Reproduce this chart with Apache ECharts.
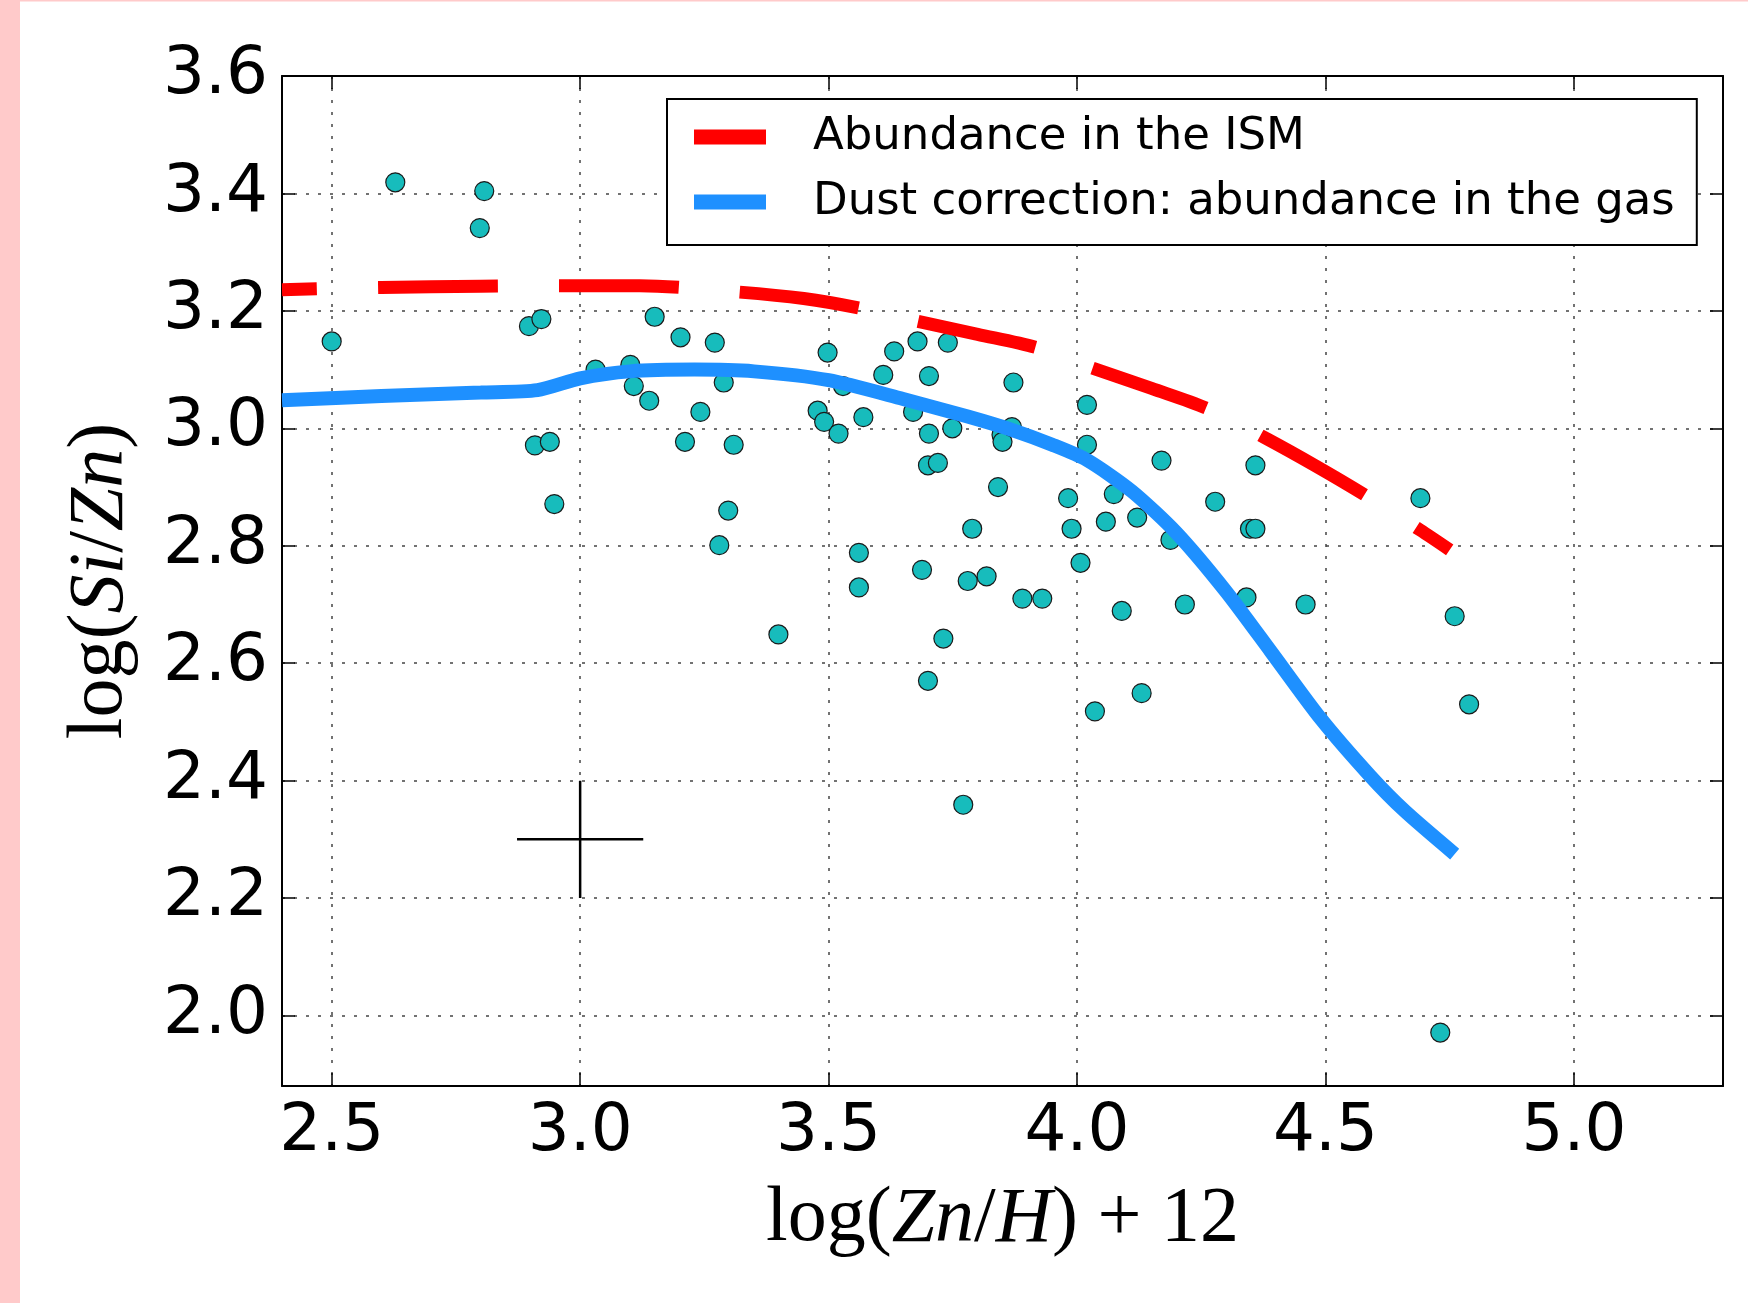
<!DOCTYPE html>
<html>
<head>
<meta charset="utf-8">
<script src="https://cdn.jsdelivr.net/npm/echarts@6/dist/echarts.min.js"></script>
<style>
html, body { margin: 0; padding: 0; background: #fff; }
#chart { width: 1748px; height: 1303px; }
</style>
</head>
<body>
<div id="chart"></div>
<script>
// tick positions
var xTicks = [2.5, 3.0, 3.5, 4.0, 4.5, 5.0];
var yTicks = [2.0, 2.2, 2.4, 2.6, 2.8, 3.0, 3.2, 3.4, 3.6];

// observed systems: log(Zn/H)+12 vs log(Si/Zn)
var obsZn = [2.500, 2.628, 2.807, 2.798, 2.897, 2.922, 2.909, 2.939, 2.948, 3.031,
             3.101, 3.108, 3.139, 3.150, 3.202, 3.211, 3.242, 3.271, 3.289, 3.280,
             3.298, 3.309, 3.399, 3.478, 3.491, 3.498, 3.520, 3.529, 3.570, 3.561,
             3.561, 3.610, 3.632, 3.670, 3.679, 3.688, 3.702, 3.702, 3.700, 3.720,
             3.700, 3.731, 3.740, 3.749, 3.771, 3.780, 3.789, 3.818, 3.841, 3.848,
             3.850, 3.872, 3.890, 3.930, 3.982, 3.989, 4.007, 4.020, 4.020, 4.036,
             4.058, 4.074, 4.090, 4.121, 4.130, 4.170, 4.188, 4.217, 4.278, 4.341,
             4.348, 4.359, 4.359, 4.460, 4.691, 4.760, 4.789, 4.731, 3.869];
var obsSiZn = [3.148, 3.419, 3.404, 3.341, 3.174, 3.186, 2.971, 2.977, 2.871, 3.100,
               3.108, 3.072, 3.047, 3.190, 3.155, 2.977, 3.028, 3.146, 3.078, 2.801,
               2.860, 2.972, 2.649, 3.030, 3.011, 3.129, 2.991, 3.072, 3.019, 2.788,
               2.729, 3.091, 3.131, 3.028, 3.148, 2.759, 2.991, 3.089, 2.937, 2.941,
               2.570, 2.642, 3.146, 3.000, 2.359, 2.740, 2.829, 2.748, 2.900, 2.989,
               2.977, 3.078, 2.710, 2.710, 2.881, 2.829, 2.771, 3.040, 2.972, 2.518,
               2.841, 2.888, 2.689, 2.848, 2.549, 2.945, 2.810, 2.700, 2.875, 2.712,
               2.829, 2.829, 2.937, 2.700, 2.881, 2.680, 2.530, 1.971, 3.002];

// model curve: abundance in the ISM
var ismZn   = [2.40, 2.60, 2.80, 3.00, 3.12, 3.32, 3.45, 3.56, 3.68, 3.80,
               3.92, 4.03, 4.15, 4.27, 4.38, 4.48, 4.58, 4.69, 4.75];
var ismSiZn = [3.236, 3.240, 3.242, 3.243, 3.243, 3.232, 3.221, 3.205, 3.182, 3.160,
               3.137, 3.103, 3.068, 3.031, 2.983, 2.936, 2.886, 2.827, 2.793];

// model curve: dust corrected abundance in the gas
var gasZn   = [2.40, 2.60, 2.80, 2.914, 3.00, 3.10, 3.23, 3.35, 3.50, 3.65,
               3.78, 3.87, 3.95, 4.02, 4.11, 4.20, 4.30, 4.39, 4.49, 4.59,
               4.66, 4.76];
var gasSiZn = [3.048, 3.055, 3.061, 3.065, 3.085, 3.097, 3.100, 3.097, 3.082, 3.050,
               3.020, 2.997, 2.972, 2.946, 2.893, 2.822, 2.722, 2.620, 2.506, 2.408,
               2.348, 2.275];

// typical error bar
var errCenter = [3.0, 2.3];
var errHalf = [0.127, 0.1];

var ismName = 'Abundance in the ISM';
var gasName = 'Dust correction: abundance in the gas';

function pairs(xs, ys) {
    return xs.map(function (x, i) { return [x, ys[i]]; });
}

var errData = [
    [errCenter[0] - errHalf[0], errCenter[1]],
    [errCenter[0] + errHalf[0], errCenter[1]],
    '-',
    [errCenter[0], errCenter[1] - errHalf[1]],
    [errCenter[0], errCenter[1] + errHalf[1]]
];

var dom = document.getElementById('chart');
var myChart = echarts.init(dom);

var tickFont = 'DejaVu Sans';
var mathFont = 'Liberation Serif';
var frame = { show: true, onZero: false, lineStyle: { color: '#000', width: 2 } };
var gridLine = { show: true, lineStyle: { color: '#444', width: 1.5, type: [3, 9] } };
var mathRich = {
    n: { fontFamily: mathFont, fontSize: 78, color: '#000' },
    i: { fontFamily: mathFont, fontSize: 78, fontStyle: 'italic', color: '#000' }
};

function tick(values) {
    return { show: true, inside: true, length: 13, customValues: values,
             lineStyle: { color: '#000', width: 1.5 } };
}

var option = {
    animation: false,
    backgroundColor: '#fff',
    graphic: [
        { type: 'rect', left: 0, top: 0, shape: { width: 20, height: 1303 },
          style: { fill: '#ffcaca' }, silent: true },
        { type: 'rect', left: 0, top: 0, shape: { width: 1748, height: 1.5 },
          style: { fill: '#ffcaca' }, silent: true }
    ],
    grid: { left: 282, right: 25, top: 76, bottom: 217 },
    legend: {
        orient: 'vertical',
        left: 667,
        top: 99,
        backgroundColor: '#fff',
        borderColor: '#000',
        borderWidth: 2,
        padding: [13, 22, 18, 27],
        itemGap: 15,
        itemWidth: 72,
        itemHeight: 15,
        selectedMode: false,
        textStyle: { fontFamily: tickFont, fontSize: 45, color: '#000', lineHeight: 50,
                     padding: [0, 0, 0, 42] },
        data: [{ name: ismName, icon: 'rect' }, { name: gasName, icon: 'rect' }]
    },
    xAxis: [{
        type: 'value',
        min: 2.4,
        max: 5.3,
        position: 'bottom',
        axisLine: frame,
        axisTick: tick(xTicks),
        axisLabel: { customValues: xTicks, fontFamily: tickFont, fontSize: 66, color: '#000',
                     margin: 14, formatter: function (v) { return v.toFixed(1); } },
        splitLine: gridLine,
        name: '{n|log(}{i|Zn}{n|/}{i|H}{n|) + 12}',
        nameLocation: 'middle',
        nameGap: 95,
        nameTextStyle: { rich: mathRich }
    }, {
        type: 'value',
        min: 2.4,
        max: 5.3,
        position: 'top',
        axisLine: frame,
        axisTick: tick(xTicks),
        axisLabel: { show: false },
        splitLine: { show: false }
    }],
    yAxis: [{
        type: 'value',
        min: 1.88,
        max: 3.6,
        position: 'left',
        axisLine: frame,
        axisTick: tick(yTicks),
        axisLabel: { customValues: yTicks, fontFamily: tickFont, fontSize: 66, color: '#000',
                     margin: 14, formatter: function (v) { return v.toFixed(1); } },
        splitLine: gridLine,
        name: '{n|log(}{i|Si}{n|/}{i|Zn}{n|)}',
        nameLocation: 'middle',
        nameRotate: 90,
        nameGap: 142,
        nameTextStyle: { rich: mathRich }
    }, {
        type: 'value',
        min: 1.88,
        max: 3.6,
        position: 'right',
        axisLine: frame,
        axisTick: tick(yTicks),
        axisLabel: { show: false },
        splitLine: { show: false }
    }],
    series: [{
        name: 'observed',
        type: 'scatter',
        data: pairs(obsZn, obsSiZn),
        symbol: 'circle',
        symbolSize: 19,
        itemStyle: { color: '#17bcbc', borderColor: '#1a1a1a', borderWidth: 1.2, opacity: 1 },
        z: 2
    }, {
        name: ismName,
        type: 'line',
        data: pairs(ismZn, ismSiZn),
        showSymbol: false,
        symbol: 'none',
        smooth: 0.3,
        color: '#ff0000',
        lineStyle: { color: '#ff0000', width: 13, type: [120, 61], dashOffset: 85, cap: 'butt' },
        z: 3
    }, {
        name: gasName,
        type: 'line',
        data: pairs(gasZn, gasSiZn),
        showSymbol: false,
        symbol: 'none',
        smooth: 0.25,
        color: '#1e90ff',
        lineStyle: { color: '#1e90ff', width: 14, cap: 'butt' },
        z: 3
    }, {
        name: 'error',
        type: 'line',
        data: errData,
        showSymbol: false,
        symbol: 'none',
        connectNulls: false,
        color: '#000',
        lineStyle: { color: '#000', width: 2.5 },
        z: 3
    }]
};

if (option && typeof option === 'object') {
    myChart.setOption(option);
}
</script>
</body>
</html>
